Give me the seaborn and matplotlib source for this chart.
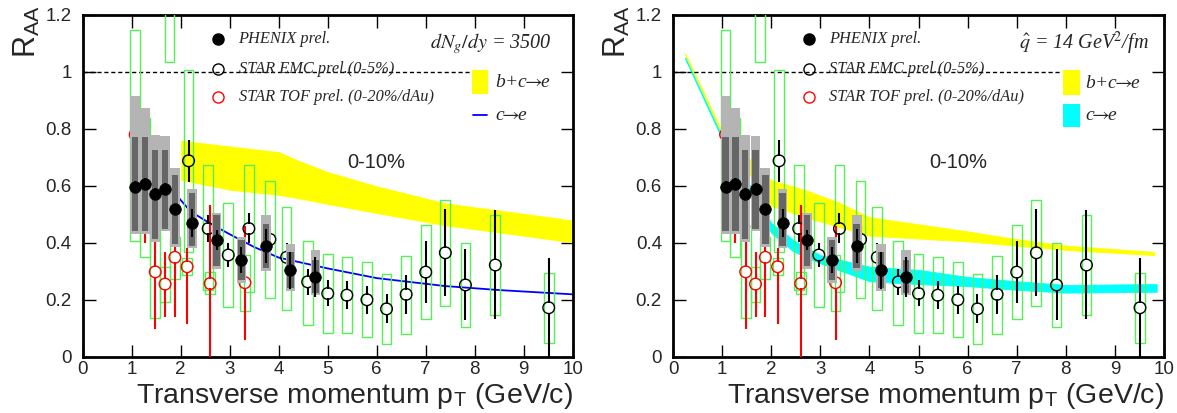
import numpy as np
import pandas as pd
import seaborn as sns
import matplotlib
matplotlib.use("Agg")
from matplotlib import pyplot as plt
from matplotlib.patches import Rectangle

# PHENIX prel. (filled circles, stat bar, dark/light grey sys boxes)
phenix_pt = [1.07, 1.27, 1.47, 1.68, 1.88, 2.23, 2.73, 3.24, 3.74, 4.24, 4.75]
phenix_raa = [0.597, 0.606, 0.573, 0.590, 0.517, 0.470, 0.410, 0.340, 0.390, 0.304, 0.280]
phenix_stat = [0.02, 0.02, 0.02, 0.02, 0.02, 0.05, 0.035, 0.045, 0.06, 0.065, 0.07]
phenix_sys_lo = [0.44, 0.44, 0.413, 0.45, 0.395, 0.39, 0.318, 0.27, 0.31, 0.24, 0.225]
phenix_sys_hi = [0.772, 0.772, 0.725, 0.725, 0.638, 0.575, 0.497, 0.41, 0.466, 0.368, 0.34]
phenix_sys_top = [0.924, 0.883, 0.79, 0.784, 0.673, 0.60, 0.515, 0.43, 0.509, 0.406, 0.386]

# STAR EMC prel. (0-5%)
emc_pt = [2.16, 2.56, 2.97, 3.39, 3.82, 4.16, 4.59, 5.0, 5.39, 5.8, 6.2, 6.6, 7.0, 7.4, 7.81, 8.42, 9.51]
emc_raa = [0.688, 0.45, 0.357, 0.45, 0.412, 0.349, 0.263, 0.222, 0.216, 0.2, 0.168, 0.219, 0.297,
           0.365, 0.252, 0.322, 0.172]
emc_err_lo = [0.614, 0.404, 0.316, 0.398, 0.36, 0.30, 0.216, 0.178, 0.167, 0.149, 0.117, 0.15, 0.187,
              0.213, 0.129, 0.131, -0.05]
emc_err_hi = [0.76, 0.497, 0.398, 0.503, 0.46, 0.40, 0.307, 0.27, 0.265, 0.25, 0.219, 0.287, 0.406,
              0.517, 0.377, 0.515, 0.347]
emc_sys_lo = [0.366, 0.234, 0.173, 0.228, 0.205, 0.164, 0.111, 0.084, 0.082, 0.07, 0.045, 0.08, 0.131,
              0.178, 0.103, 0.145, 0.047]
emc_sys_hi = [1.006, 0.673, 0.54, 0.673, 0.618, 0.524, 0.407, 0.359, 0.349, 0.331, 0.289, 0.354, 0.461,
              0.552, 0.40, 0.497, 0.293]

# STAR TOF prel. (0-20%/dAu)
tof_pt = [1.07, 1.27, 1.48, 1.68, 1.77, 1.88, 2.13, 2.6, 3.31]
tof_raa = [0.78, 0.60, 0.298, 0.255, 1.45, 0.349, 0.316, 0.257, 0.26]
tof_err_dn = [0.2, 0.2, 0.2, 0.114, 0.2, 0.21, 0.2, 0.275, 0.2]
tof_err_up = [0.12, 0.2, 0.2, 0.114, 0.2, 0.21, 0.065, 0.275, 0.2]
tof_sys_lo = [0.407, 0.349, 0.135, 0.193, 1.034, 0.274, 0.287, 0.219, 0.161]
tof_sys_hi = [1.149, 0.84, 0.46, 0.316, 1.60, 0.419, 0.345, 0.298, 0.357]

# theory, left panel (dNg/dy = 3500)
bc_left_pt = [2.0, 3.0, 4.0, 4.4, 5.0, 6.0, 7.4, 8.5, 10.0]
bc_left_hi = [0.76, 0.74, 0.72, 0.69, 0.65, 0.60, 0.54, 0.515, 0.48]
bc_left_lo = [0.62, 0.585, 0.567, 0.555, 0.535, 0.503, 0.46, 0.435, 0.40]
c_left_pt = [1.95, 2.2, 2.6, 3.0, 3.5, 4.0, 5.0, 6.0, 7.4, 8.5, 10.0]
c_left_raa = [0.56, 0.51, 0.468, 0.43, 0.385, 0.348, 0.31, 0.276, 0.248, 0.234, 0.219]

# theory, right panel (qhat = 14 GeV^2/fm)
bc_right_pt = [0.25, 1.0, 2.0, 2.7, 3.4, 4.0, 5.0, 6.0, 7.0, 8.0, 9.8]
bc_right_hi = [1.065, 0.79, 0.62, 0.585, 0.54, 0.49, 0.465, 0.44, 0.413, 0.39, 0.368]
bc_right_lo = [1.058, 0.778, 0.53, 0.49, 0.455, 0.425, 0.415, 0.405, 0.39, 0.375, 0.357]
c_right_pt = [0.25, 1.0, 2.0, 2.45, 3.0, 4.0, 5.0, 6.0, 7.0, 8.0, 9.85]
c_right_hi = [1.05, 0.772, 0.47, 0.41, 0.357, 0.316, 0.305, 0.28, 0.265, 0.252, 0.255]
c_right_lo = [1.045, 0.764, 0.435, 0.37, 0.328, 0.265, 0.255, 0.248, 0.235, 0.225, 0.228]

x_ticks = [0, 1, 2, 3, 4, 5, 6, 7, 8, 9, 10]
y_ticks = [0, 0.2, 0.4, 0.6, 0.8, 1.0, 1.2]
y_ticklabels = ['0', '0.2', '0.4', '0.6', '0.8', '1', '1.2']

GREEN = '#55f055'
LGREY = '#b4b4b4'
DGREY = '#666666'
SERIF = ['Liberation Serif', 'DejaVu Serif']
GAP = 0.017
BCE = 'b+c$\\!\\!\\rightarrow\\!\\!$e'
CE = 'c$\\!\\!\\rightarrow\\!\\!$e'

sns.set_theme(style="ticks")
plt.rcParams['font.family'] = ['Liberation Sans', 'DejaVu Sans']
plt.rcParams['mathtext.fontset'] = 'stix'


def gapped_bars(ax, x, y, lo, hi, color, lw, z):
    x = np.asarray(x)
    y = np.asarray(y)
    ax.vlines(x, np.asarray(lo), y - GAP, color=color, lw=lw, zorder=z)
    ax.vlines(x, y + GAP, np.asarray(hi), color=color, lw=lw, zorder=z)


def draw_data(ax):
    # STAR boxes
    ax.bar(emc_pt, np.subtract(emc_sys_hi, emc_sys_lo), bottom=emc_sys_lo, width=0.2,
           fill=False, edgecolor=GREEN, linewidth=1, zorder=3)
    ax.bar(tof_pt, np.subtract(tof_sys_hi, tof_sys_lo), bottom=tof_sys_lo, width=0.2,
           fill=False, edgecolor=GREEN, linewidth=1, zorder=3)
    # STAR TOF
    gapped_bars(ax, tof_pt, tof_raa, np.subtract(tof_raa, tof_err_dn), np.add(tof_raa, tof_err_up),
                'red', 1.5, 4)
    tof = pd.DataFrame({'pt': tof_pt, 'raa': tof_raa})
    sns.scatterplot(data=tof, x='pt', y='raa', ax=ax, marker='o', s=70, facecolor='none',
                    edgecolor='red', linewidth=1, zorder=5, legend=False)
    # STAR EMC
    gapped_bars(ax, emc_pt, emc_raa, emc_err_lo, emc_err_hi, 'black', 1.5, 6)
    emc = pd.DataFrame({'pt': emc_pt, 'raa': emc_raa})
    sns.scatterplot(data=emc, x='pt', y='raa', ax=ax, marker='o', s=70, facecolor='none',
                    edgecolor='black', linewidth=1, zorder=7, legend=False)
    # PHENIX
    ax.bar(phenix_pt, np.subtract(phenix_sys_top, phenix_sys_lo), bottom=np.subtract(phenix_sys_lo, 0.01),
           width=0.2, color=LGREY, linewidth=0, zorder=8)
    ax.bar(phenix_pt, np.subtract(phenix_sys_hi, phenix_sys_lo), bottom=phenix_sys_lo,
           width=0.13, color=DGREY, linewidth=0, zorder=9)
    ax.vlines(phenix_pt, np.subtract(phenix_raa, phenix_stat), np.add(phenix_raa, phenix_stat),
              color='black', lw=1.5, zorder=10)
    phx = pd.DataFrame({'pt': phenix_pt, 'raa': phenix_raa})
    sns.scatterplot(data=phx, x='pt', y='raa', ax=ax, marker='o', s=70, color='black',
                    edgecolor='black', linewidth=0.5, zorder=11, legend=False)


def style_axes(ax):
    ax.set_xlim(0, 10)
    ax.set_ylim(0, 1.2)
    ax.set_xticks(x_ticks)
    ax.set_xticklabels([str(t) for t in x_ticks])
    ax.set_yticks(y_ticks)
    ax.set_yticklabels(y_ticklabels)
    ax.tick_params(axis='both', direction='in', length=9, width=1, top=True, right=True,
                   labelsize=13.5, color='black')
    ax.tick_params(axis='x', pad=3)
    ax.tick_params(axis='y', pad=8)
    for s in ax.spines.values():
        s.set_visible(True)
        s.set_linewidth(2)
        s.set_color('black')
    ax.set_xlabel('Transverse momentum p$_\\mathregular{T}$ (GeV/c)', fontsize=20.5, ha='right', va='top')
    ax.xaxis.set_label_coords(1.0, -0.07)
    ax.set_ylabel('')
    ax.text(-0.112, 1.03, 'R$_\\mathregular{AA}$', transform=ax.transAxes, rotation=90,
            fontsize=22, ha='center', va='top')
    ax.plot([0, 7.9], [1, 1], color='black', lw=1, ls=(0, (3, 2)), zorder=2)
    # legend of data
    ax.plot(2.77, 1.117, 'o', ms=8, color='black', zorder=12)
    ax.plot(2.77, 1.012, 'o', ms=8, mfc='none', mec='black', mew=1, zorder=12)
    ax.plot(2.77, 0.912, 'o', ms=8, mfc='none', mec='red', mew=1, zorder=12)
    ax.text(3.18, 1.117, 'PHENIX prel.', family=SERIF, style='italic', fontsize=11.8, va='center', zorder=12)
    ax.text(3.18, 1.012, 'STAR EMC prel.(0-5%)', family=SERIF, style='italic', fontsize=11.8, va='center',
            zorder=12)
    ax.text(3.18, 0.912, 'STAR TOF prel. (0-20%/dAu)', family=SERIF, style='italic', fontsize=11.8,
            va='center', zorder=12)


fig = plt.figure(figsize=(11.77, 4.13), dpi=100)
ax1 = fig.add_axes([0.0703, 0.1363, 0.4163, 0.8274])
ax2 = fig.add_axes([0.5718, 0.1363, 0.4172, 0.8274])

# left panel
ax1.fill_between(bc_left_pt, bc_left_lo, bc_left_hi, color='yellow', linewidth=0, zorder=1)
cl = pd.DataFrame({'pt': c_left_pt, 'raa': c_left_raa})
sns.lineplot(data=cl, x='pt', y='raa', ax=ax1, color='blue', lw=1.3, sort=False, zorder=2)
draw_data(ax1)
style_axes(ax1)
ax1.text(5.98, 0.683, '0-10%', fontsize=14.5, ha='center', va='center')
ax1.text(9.58, 1.10, '$dN_{g}/dy$ = 3500', family=SERIF, style='italic', fontsize=14.5, ha='right',
         va='center')
ax1.add_patch(Rectangle((7.94, 0.924), 0.34, 0.082, color='yellow', lw=0, zorder=12))
ax1.text(8.41, 0.962, BCE, family=SERIF, style='italic', fontsize=14, va='center')
ax1.plot([7.96, 8.25], [0.848, 0.848], color='blue', lw=1.3)
ax1.text(8.41, 0.848, CE, family=SERIF, style='italic', fontsize=14, va='center')

# right panel
ax2.fill_between(bc_right_pt, bc_right_lo, bc_right_hi, color='yellow', linewidth=0.6,
                 edgecolor='yellow', zorder=1)
ax2.fill_between(c_right_pt, c_right_lo, c_right_hi, color='cyan', linewidth=0.6,
                 edgecolor='cyan', zorder=1.5)
draw_data(ax2)
style_axes(ax2)
ax2.text(5.8, 0.683, '0-10%', fontsize=14.5, ha='center', va='center')
ax2.text(9.68, 1.10, '$\\hat{q}$ = 14 GeV$^{2}$/fm', family=SERIF, style='italic', fontsize=14.5,
         ha='right', va='center')
ax2.add_patch(Rectangle((7.95, 0.92), 0.34, 0.086, color='yellow', lw=0, zorder=12))
ax2.add_patch(Rectangle((7.95, 0.805), 0.34, 0.084, color='cyan', lw=0, zorder=12))
ax2.text(8.39, 0.96, BCE, family=SERIF, style='italic', fontsize=14, va='center')
ax2.text(8.39, 0.847, CE, family=SERIF, style='italic', fontsize=14, va='center')

fig.savefig('out.png', dpi=100)
plt.close(fig)
